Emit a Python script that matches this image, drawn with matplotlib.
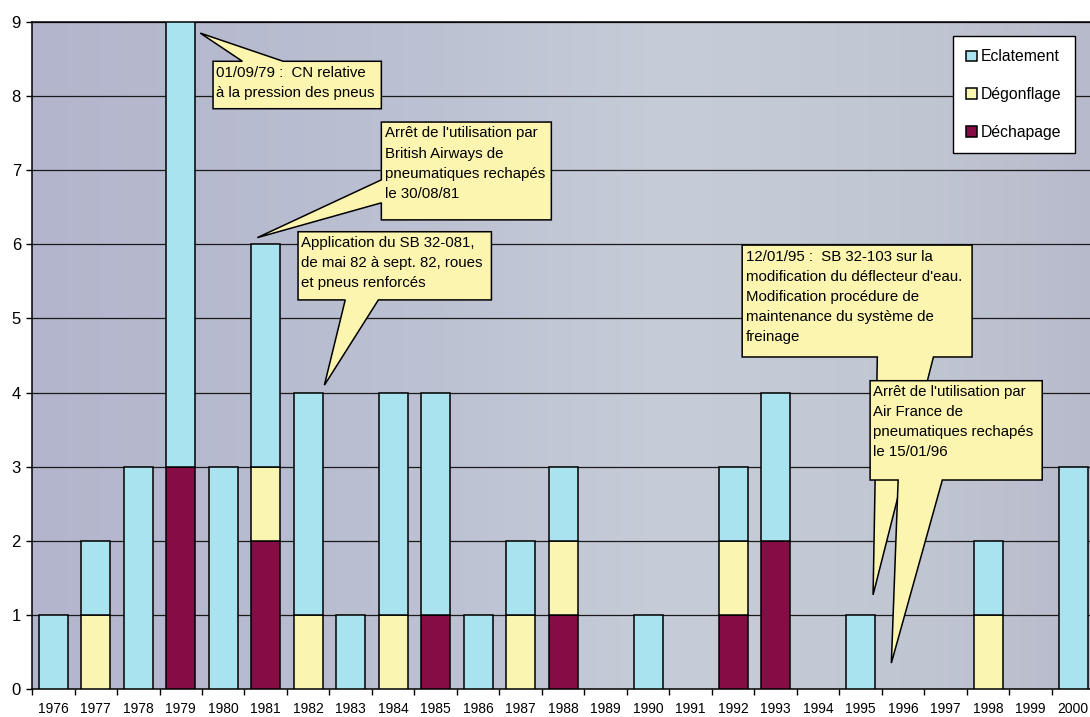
import numpy as np
import matplotlib
matplotlib.use("Agg")
import matplotlib.pyplot as plt
from matplotlib.patches import Polygon
from matplotlib.colors import to_rgb

plt.rcParams['font.family'] = ['Liberation Sans', 'DejaVu Sans']

# ---- data -------------------------------------------------------------
years = [str(y) for y in range(1976, 2001)]
dechapage = [0, 0, 0, 3, 0, 2, 0, 0, 0, 1, 0, 0, 1, 0, 0, 0, 1, 2, 0, 0, 0, 0, 0, 0, 0]
degonflage = [0, 1, 0, 0, 0, 1, 1, 0, 1, 0, 0, 1, 1, 0, 0, 0, 1, 0, 0, 0, 0, 0, 1, 0, 0]
eclatement = [1, 1, 3, 6, 3, 3, 3, 1, 3, 3, 1, 1, 1, 0, 1, 0, 1, 2, 0, 1, 0, 0, 1, 0, 3]
series_names = ["Eclatement", "Dégonflage", "Déchapage"]
y_ticks = list(range(0, 10))

# ---- style ------------------------------------------------------------
C_ECL = "#a8e3ef"
C_DEG = "#fbf5b2"
C_DEC = "#850c45"
C_NOTE = "#fcf5b0"
BAR_W = 0.69

fig = plt.figure(figsize=(10.9, 7.17), dpi=100)
fig.patch.set_facecolor("white")
ax = fig.add_axes([32 / 1090, 28 / 717, 1062.5 / 1090, 667 / 717])

x = np.arange(len(years))
dec = np.array(dechapage, float)
deg = np.array(degonflage, float)
ecl = np.array(eclatement, float)

ax.set_xlim(-0.5, len(years) - 0.5)
ax.set_ylim(0, 9)

# soft horizontal gradient behind the plot area
stops = [(0.0, "#b3b5cc"), (0.35, "#bbc0d2"), (0.6, "#c6cdd8"), (0.85, "#c0c5d2"), (1.0, "#b7bacb")]
pos = np.linspace(0, 1, 400)
grad = np.zeros((1, 400, 3))
for c in range(3):
    grad[0, :, c] = np.interp(pos, [s[0] for s in stops], [to_rgb(s[1])[c] for s in stops])
ax.imshow(grad, extent=[-0.5, len(years) - 0.5, 0, 9], aspect="auto",
          interpolation="bilinear", zorder=0)

# horizontal grid
for yv in y_ticks[1:]:
    ax.axhline(yv, color="#1a1a1a", lw=0.9, zorder=1)

# stacked bars: Déchapage at the bottom, then Dégonflage, then Eclatement
bar_kw = dict(width=BAR_W, edgecolor="black", linewidth=1.1, zorder=3)
m = dec > 0
h_dec = ax.bar(x[m], dec[m], color=C_DEC, label=series_names[2], **bar_kw)
m = deg > 0
h_deg = ax.bar(x[m], deg[m], bottom=dec[m], color=C_DEG, label=series_names[1], **bar_kw)
m = ecl > 0
h_ecl = ax.bar(x[m], ecl[m], bottom=(dec + deg)[m], color=C_ECL, label=series_names[0], **bar_kw)

# axes, ticks
for s in ["left", "bottom", "top"]:
    ax.spines[s].set_color("black")
    ax.spines[s].set_linewidth(1.1)
ax.spines["right"].set_visible(False)

ax.set_yticks(y_ticks)
ax.set_yticklabels([str(v) for v in y_ticks], fontsize=12)
ax.tick_params(axis="y", direction="out", length=4, width=1, pad=4)

ax.set_xticks(x)
ax.set_xticklabels(years, fontsize=10)
ax.set_xticks(np.arange(-0.5, len(years), 1.0), minor=True)
ax.tick_params(axis="x", which="major", length=0, pad=9.5)
ax.tick_params(axis="x", which="minor", direction="out", length=4, width=1)

# callouts
notes = [
    dict(text="01/09/79 :  CN relative\nà la pression des pneus",
         box=(3.76, 7.72, 7.83, 8.47), side="top", base=(4.45, 5.41), tip=(3.46, 8.85)),
    dict(text="Arrêt de l'utilisation par\nBritish Airways de\npneumatiques rechapés\nle 30/08/81",
         box=(7.72, 11.72, 6.33, 7.65), side="left", base=(6.56, 6.87), tip=(4.80, 6.09)),
    dict(text="Application du SB 32-081,\nde mai 82 à sept. 82, roues\net pneus renforcés",
         box=(5.76, 10.31, 5.25, 6.17), side="bottom", base=(6.87, 7.65), tip=(6.38, 4.10)),
    dict(text="12/01/95 :  SB 32-103 sur la\nmodification du déflecteur d'eau.\n"
              "Modification procédure de\nmaintenance du système de\nfreinage",
         box=(16.21, 21.62, 4.48, 5.99), side="bottom", base=(19.39, 20.71), tip=(19.29, 1.27)),
    dict(text="Arrêt de l'utilisation par\nAir France de\npneumatiques rechapés\nle 15/01/96",
         box=(19.22, 23.27, 2.82, 4.16), side="bottom", base=(19.88, 20.92), tip=(19.72, 0.35)),
]


def callout_vertices(box, side, base, tip):
    x0, x1, y0, y1 = box
    a, b = base
    if side == "top":
        return [(x0, y1), (a, y1), tip, (b, y1), (x1, y1), (x1, y0), (x0, y0)]
    if side == "bottom":
        return [(x0, y1), (x1, y1), (x1, y0), (b, y0), tip, (a, y0), (x0, y0)]
    # left side
    return [(x0, y1), (x1, y1), (x1, y0), (x0, y0), (x0, a), tip, (x0, b)]


for i, n in enumerate(notes):
    z = 5 + i
    poly = Polygon(callout_vertices(n["box"], n["side"], n["base"], n["tip"]), closed=True,
                   facecolor=C_NOTE, edgecolor="black", linewidth=1.1, zorder=z,
                   joinstyle="miter")
    ax.add_patch(poly)
    x0, x1, y0, y1 = n["box"]
    ax.text(x0 + 0.08, y1 - 0.06, n["text"], ha="left", va="top", fontsize=10.8,
            linespacing=1.55, color="black", zorder=z + 0.5)

leg = ax.legend(handles=[h_ecl, h_deg, h_dec], labels=series_names,
                loc="upper left", bbox_to_anchor=(0.8668, 0.979), borderaxespad=0,
                fontsize=11.3, frameon=True, fancybox=False, edgecolor="black",
                framealpha=1, handlelength=0.65, handleheight=0.65,
                handletextpad=0.3, labelspacing=1.45, borderpad=0.85)
leg.get_frame().set_linewidth(1.0)
leg.set_zorder(20)

fig.savefig("out.png", dpi=100, facecolor="white")
